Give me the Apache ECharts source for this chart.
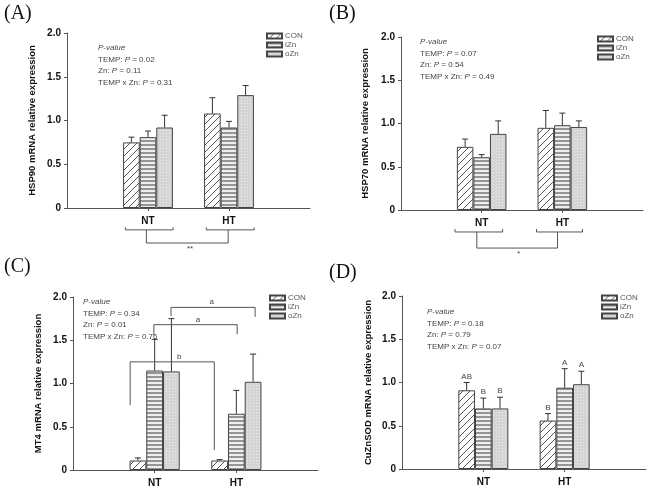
<!DOCTYPE html>
<html>
<head>
<meta charset="utf-8">
<script src="https://cdn.jsdelivr.net/npm/echarts/dist/echarts.min.js"></script>
<style>html,body{margin:0;padding:0;background:#fff;}#c{width:650px;height:493px;}</style>
</head>
<body>
<div id="c"></div>
<script>
// ---------------- DATA ----------------
const categories = ['', 'NT', 'HT', ''];
const groups = ['CON', 'iZn', 'oZn'];
const yTickValues = [0, 0.5, 1.0, 1.5, 2.0];

// means per group [NT, HT]
const hsp90Mean = [[0.75, 1.08], [0.81, 0.92], [0.92, 1.29]];
const hsp90Err  = [[0.06, 0.18], [0.07, 0.07], [0.14, 0.11]];
const hsp70Mean = [[0.73, 0.95], [0.61, 0.98], [0.88, 0.96]];
const hsp70Err  = [[0.09, 0.20], [0.03, 0.14], [0.15, 0.07]];
const mt4Mean   = [[0.11, 0.11], [1.15, 0.65], [1.14, 1.02]];
const mt4Err    = [[0.03, 0.01], [0.36, 0.27], [0.61, 0.32]];
const sodMean   = [[0.91, 0.56], [0.70, 0.94], [0.70, 0.98]];
const sodErr    = [[0.09, 0.08], [0.12, 0.22], [0.13, 0.15]];
const sodLetters = [['AB', 'B'], ['B', 'A'], ['B', 'A']];

const pValuesA = ['0.02', '0.11', '0.31'];
const pValuesB = ['0.07', '0.54', '0.49'];
const pValuesC = ['0.34', '0.01', '0.76'];
const pValuesD = ['0.18', '0.79', '0.07'];

const yNames = ['HSP90 mRNA relative expression', 'HSP70 mRNA relative expression',
                'MT4 mRNA relative expression', 'CuZnSOD mRNA relative expression'];
const panelLabels = ['(A)', '(B)', '(C)', '(D)'];

// ---------------- STYLE / LAYOUT ----------------
const BAR_FRAC = 0.205;
const AX = '#555';
const grids = [
  {left: 67, top: 33, width: 243, height: 175},
  {left: 401, top: 37, width: 242, height: 173},
  {left: 73, top: 297, width: 245, height: 173},
  {left: 402, top: 296, width: 244, height: 173}
];
const legendPos = [{left: 266, top: 32}, {left: 597, top: 35}, {left: 269, top: 294}, {left: 601, top: 294}];
const pTextPos = [{x: 98, y: 49}, {x: 420, y: 43}, {x: 83, y: 303}, {x: 427, y: 313}];
const labelPos = [{x: 4, y: 4}, {x: 329, y: 4}, {x: 4, y: 257}, {x: 329, y: 263}];
const nameGaps = [30, 31, 30, 29];

function makePattern(kind) {
  const cv = document.createElement('canvas');
  const ctx = cv.getContext('2d');
  if (kind === 0) {
    cv.width = 7; cv.height = 7;
    ctx.fillStyle = '#fff'; ctx.fillRect(0, 0, 7, 7);
    ctx.strokeStyle = '#555'; ctx.lineWidth = 1;
    ctx.beginPath();
    ctx.moveTo(0, 7); ctx.lineTo(7, 0);
    ctx.moveTo(-1, 1); ctx.lineTo(1, -1);
    ctx.moveTo(6, 8); ctx.lineTo(8, 6);
    ctx.stroke();
  } else if (kind === 1) {
    cv.width = 4; cv.height = 4;
    ctx.fillStyle = '#eeeeee'; ctx.fillRect(0, 0, 4, 4);
    ctx.fillStyle = '#959595'; ctx.fillRect(0, 0, 4, 2);
  } else {
    cv.width = 3; cv.height = 3;
    ctx.fillStyle = '#d4d4d4'; ctx.fillRect(0, 0, 3, 3);
    ctx.fillStyle = '#ededed'; ctx.fillRect(1, 1, 1, 1);
  }
  return {image: cv, repeat: 'repeat'};
}
const patterns = [makePattern(0), makePattern(1), makePattern(2)];

// annotations (in data units: x = category position, y = value)
const annotations = [
  {lines: [
    [[0.72, -0.22], [0.72, -0.25], [1.31, -0.25], [1.31, -0.22]],
    [[0.98, -0.25], [0.98, -0.40], [1.99, -0.40], [1.99, -0.25]],
    [[1.72, -0.22], [1.72, -0.25], [2.31, -0.25], [2.31, -0.22]]
  ], texts: [{t: '**', p: [1.52, -0.47]}]},
  {lines: [
    [[0.67, -0.22], [0.67, -0.254], [1.26, -0.254], [1.26, -0.22]],
    [[0.94, -0.254], [0.94, -0.44], [1.94, -0.44], [1.94, -0.254]],
    [[1.68, -0.22], [1.68, -0.254], [2.25, -0.254], [2.25, -0.22]]
  ], texts: [{t: '*', p: [1.46, -0.51]}]},
  {lines: [
    [[0.70, 0.75], [0.70, 1.25], [1.73, 1.25], [1.73, 0.23]],
    [[0.99, 1.56], [0.99, 1.68], [2.01, 1.68], [2.01, 1.57]],
    [[1.20, 1.78], [1.20, 1.88], [2.23, 1.88], [2.23, 1.77]]
  ], texts: [{t: 'b', p: [1.30, 1.31]}, {t: 'a', p: [1.53, 1.74]}, {t: 'a', p: [1.70, 1.95]}]},
  {lines: [], texts: []}
];

const means = [hsp90Mean, hsp70Mean, mt4Mean, sodMean];
const errs = [hsp90Err, hsp70Err, mt4Err, sodErr];
const letters = [null, null, null, sodLetters];
const pVals = [pValuesA, pValuesB, pValuesC, pValuesD];

const option = {
  animation: false,
  backgroundColor: '#fff',
  grid: grids.map(g => Object.assign({containLabel: false}, g)),
  xAxis: [], yAxis: [], series: [], legend: [], graphic: []
};

for (let gi = 0; gi < 4; gi++) {
  option.xAxis.push({
    type: 'category', gridIndex: gi, data: categories, boundaryGap: false,
    axisLine: {lineStyle: {color: AX, width: 1}},
    axisTick: {show: true, length: 3, interval: (i) => i === 1 || i === 2, lineStyle: {color: AX}},
    axisLabel: {interval: 0, margin: 8, fontFamily: 'Liberation Sans', fontWeight: 'bold', fontSize: 10, color: '#111'},
    splitLine: {show: false}
  });
  option.yAxis.push({
    type: 'value', gridIndex: gi, min: yTickValues[0], max: yTickValues[yTickValues.length - 1], interval: 0.5,
    name: yNames[gi], nameLocation: 'middle', nameGap: nameGaps[gi], nameRotate: 90,
    nameTextStyle: {fontFamily: 'Liberation Sans', fontWeight: 'bold', fontSize: 9.5, color: '#111'},
    axisLine: {show: true, lineStyle: {color: AX, width: 1}},
    axisTick: {show: true, length: 3, lineStyle: {color: AX}},
    axisLabel: {margin: 6, fontFamily: 'Liberation Sans', fontWeight: 'bold', fontSize: 10, color: '#111',
      formatter: v => v === 0 ? '0' : v.toFixed(1)},
    splitLine: {show: false}
  });
  // bars
  groups.forEach((name, s) => {
    option.series.push({
      type: 'bar', name: name, xAxisIndex: gi, yAxisIndex: gi,
      barWidth: (BAR_FRAC * 100) + '%', barGap: '0%',
      itemStyle: {color: patterns[s], borderColor: '#444', borderWidth: 1},
      data: means[gi][s].map((v, c) => [c + 1, v])
    });
  });
  // error bars (+ letters)
  const ed = [];
  for (let s = 0; s < 3; s++) for (let c = 0; c < 2; c++) ed.push([c + 1, s, means[gi][s][c], errs[gi][s][c]]);
  const lt = letters[gi];
  option.series.push({
    type: 'custom', xAxisIndex: gi, yAxisIndex: gi, z: 5, silent: true,
    encode: {x: 0, y: 2}, data: ed,
    renderItem: (params, api) => {
      const cat = api.value(0), s = api.value(1), m = api.value(2), e = api.value(3);
      const bw = api.size([1, 0])[0] * BAR_FRAC;
      const b = api.coord([cat, m]); const t = api.coord([cat, m + e]);
      const x = b[0] + (s - 1) * bw;
      const ch = [
        {type: 'line', shape: {x1: x, y1: b[1], x2: x, y2: t[1]}, style: {stroke: '#333', lineWidth: 1}},
        {type: 'line', shape: {x1: x - 3, y1: t[1], x2: x + 3, y2: t[1]}, style: {stroke: '#333', lineWidth: 1}}
      ];
      if (lt) ch.push({type: 'text', x: x, y: t[1] - 6, style: {text: lt[s][cat - 1], fontSize: 8,
        fontFamily: 'Liberation Sans', fill: '#444', align: 'center', verticalAlign: 'middle'}});
      return {type: 'group', children: ch};
    }
  });
  // annotations
  const an = annotations[gi];
  if (an.lines.length || an.texts.length) {
    option.series.push({
      type: 'custom', xAxisIndex: gi, yAxisIndex: gi, z: 6, silent: true, clip: false,
      encode: {x: 0, y: 1}, data: [[1, 0]],
      renderItem: (params, api) => {
        const x0 = api.coord([0, 0])[0]; const bw = api.size([1, 0])[0];
        const P = p => [x0 + p[0] * bw, api.coord([0, p[1]])[1]];
        const ch = an.lines.map(l => ({type: 'polyline', shape: {points: l.map(P)},
          style: {stroke: '#555', lineWidth: 1, fill: null}}));
        an.texts.forEach(tx => {
          const q = P(tx.p);
          ch.push({type: 'text', x: q[0], y: q[1], style: {text: tx.t, fontSize: 8,
            fontFamily: 'Liberation Sans', fill: '#444', align: 'center', verticalAlign: 'middle'}});
        });
        return {type: 'group', children: ch};
      }
    });
  }
  // legend
  option.legend.push(Object.assign({
    orient: 'vertical', data: groups, icon: 'rect', itemWidth: 15, itemHeight: 5, itemGap: 1,
    padding: 0, selectedMode: false,
    textStyle: {fontSize: 8, fontFamily: 'Liberation Sans', color: '#555', padding: [0, 0, 0, -2]}
  }, legendPos[gi]));
  // p-value text
  const pv = pVals[gi]; const pp = pTextPos[gi];
  const rich = {i: {fontStyle: 'italic', fontSize: 8, fontFamily: 'Liberation Sans', fill: '#444', color: '#444'}};
  const lines = ['{i|P-value}', 'TEMP: {i|P} = ' + pv[0], 'Zn: {i|P} = ' + pv[1], 'TEMP x Zn: {i|P} = ' + pv[2]];
  lines.forEach((ln, k) => {
    option.graphic.push({type: 'text', left: pp.x, top: pp.y + k * 11.5 - 5,
      style: {text: ln, rich: rich, fontSize: 8, fontFamily: 'Liberation Sans', fill: '#444'}});
  });
  option.graphic.push({type: 'text', left: labelPos[gi].x, top: labelPos[gi].y,
    style: {text: panelLabels[gi], fontSize: 20, fontFamily: 'Liberation Serif', fill: '#111'}});
}

const chart = echarts.init(document.getElementById('c'), null, {renderer: 'canvas'});
chart.setOption(option);
</script>
</body>
</html>
